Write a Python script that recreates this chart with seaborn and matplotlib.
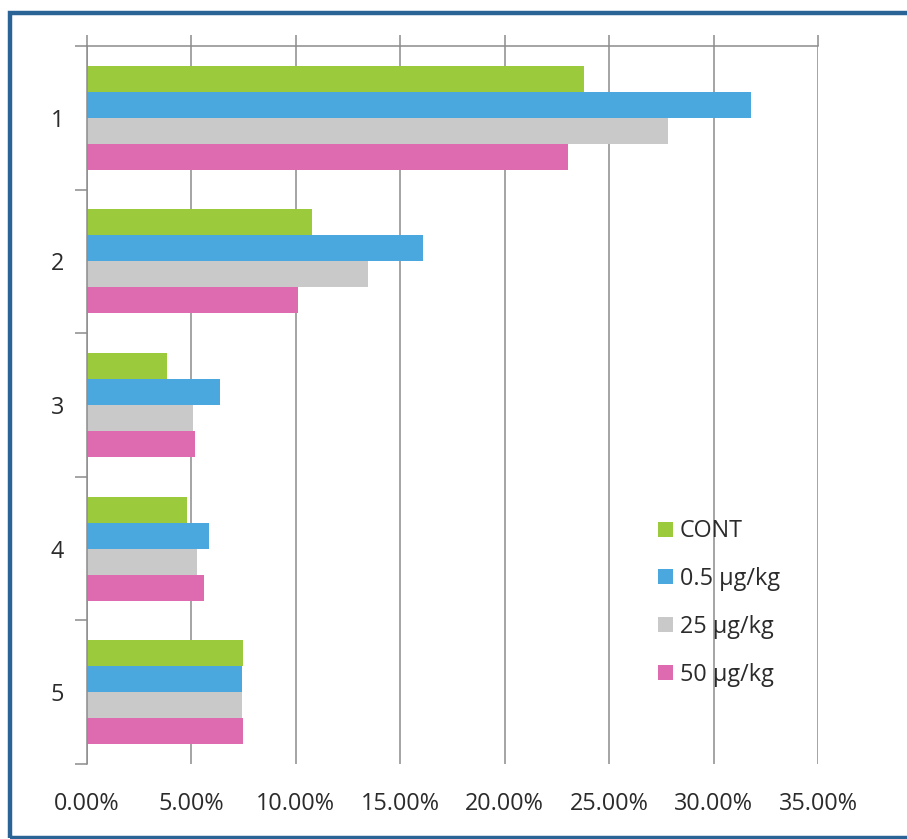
import matplotlib
matplotlib.use("Agg")
import matplotlib.pyplot as plt
from matplotlib.patches import Rectangle
from matplotlib.ticker import FixedLocator, PercentFormatter
import numpy as np
import pandas as pd
import seaborn as sns

# Data (fractions)
categories = ["1", "2", "3", "4", "5"]
series = ["CONT", "0.5 µg/kg", "25 µg/kg", "50 µg/kg"]
cont = [0.238, 0.108, 0.0385, 0.048, 0.0748]
dose_05 = [0.318, 0.161, 0.064, 0.0585, 0.0745]
dose_25 = [0.278, 0.1345, 0.051, 0.053, 0.0745]
dose_50 = [0.2305, 0.101, 0.052, 0.056, 0.0746]
x_ticks = [0.0, 0.05, 0.10, 0.15, 0.20, 0.25, 0.30, 0.35]

colors = ["#9BCB3C", "#4AA8DF", "#C9C9C9", "#DE6AAF"]

df = pd.DataFrame({
    "category": np.repeat(categories, len(series)),
    "group": series * len(categories),
    "value": np.ravel(np.column_stack([cont, dose_05, dose_25, dose_50])),
})

sns.set_theme(style="white")
plt.rcParams["font.family"] = ["Open Sans", "DejaVu Sans"]

FS = 16.8
TXT = "#2B2B2B"

fig = plt.figure(figsize=(9.07, 8.39), dpi=100)
ax = fig.add_axes([86.7 / 907, 1 - 764 / 839, (818 - 86.7) / 907, (764 - 46) / 839])

sns.barplot(
    data=df, x="value", y="category", hue="group", orient="h",
    hue_order=series, order=categories, palette=colors,
    width=0.725, gap=0, saturation=1, linewidth=0, ax=ax,
)

ax.set_xlim(0, 0.35)
ax.set_ylim(4.5, -0.5)
ax.set_xticks(x_ticks)
ax.xaxis.set_major_formatter(PercentFormatter(xmax=1, decimals=2))
ax.grid(axis="x", color="#8C8C8C", linewidth=1.1)
ax.set_axisbelow(True)
ax.set_xlabel("")
ax.set_ylabel("")

for side in ["bottom", "right"]:
    ax.spines[side].set_visible(False)
for side in ["top", "left"]:
    ax.spines[side].set_color("#8C8C8C")
    ax.spines[side].set_linewidth(1.1)

ax.tick_params(axis="x", which="major", top=True, bottom=False,
               labeltop=False, labelbottom=True, direction="out",
               length=8, width=1.1, color="#8C8C8C",
               labelsize=FS, labelcolor=TXT, pad=12)
ax.tick_params(axis="y", which="major", left=False, length=0,
               labelsize=FS, labelcolor=TXT, pad=21)
ax.yaxis.set_minor_locator(FixedLocator(np.arange(-0.5, 5.0, 1.0)))
ax.tick_params(axis="y", which="minor", left=True, direction="out",
               length=9, width=1.1, color="#8C8C8C")
for lbl in ax.get_yticklabels():
    lbl.set_horizontalalignment("center")

leg = ax.legend(
    loc="upper left", bbox_to_anchor=(562 / (818 - 86.7), 1 - (510 - 46) / (764 - 46)),
    frameon=False, fontsize=FS, handlelength=0.62, handleheight=0.62,
    handletextpad=0.3, labelspacing=1.02, borderaxespad=0,
)
for t in leg.get_texts():
    t.set_color(TXT)

# blue outer frame
fig.patches.append(Rectangle((9.5 / 907, 1.5 / 839), 905 / 907, (837 - 12) / 839 - 0.0005,
                             transform=fig.transFigure, fill=False,
                             edgecolor="#2A6496", linewidth=3.2))

fig.savefig("out.png", dpi=100)
